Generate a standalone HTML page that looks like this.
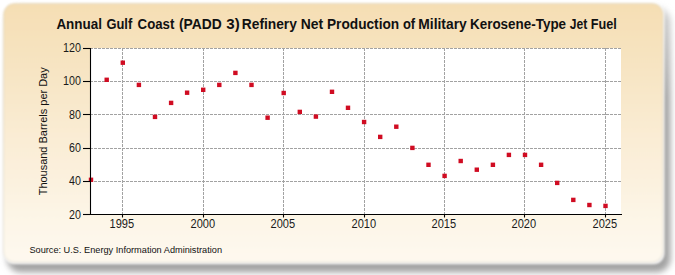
<!DOCTYPE html>
<html><head><meta charset="utf-8"><style>
html,body{margin:0;padding:0;width:675px;height:275px;overflow:hidden;background:#fff}
svg{display:block}
text{font-family:"Liberation Sans",sans-serif}
</style></head><body>
<svg width="675" height="275" viewBox="0 0 675 275">
<defs>
<linearGradient id="bg" gradientUnits="userSpaceOnUse" x1="0" y1="0" x2="0" y2="263">
<stop offset="0" stop-color="#F5DEB3"/>
<stop offset="0.25" stop-color="#F7E4C2"/>
<stop offset="0.55" stop-color="#FAEDD6"/>
<stop offset="0.85" stop-color="#FDF6E8"/>
<stop offset="1" stop-color="#FEF9EF"/>
</linearGradient>
<linearGradient id="shg" x1="0" y1="0" x2="0" y2="1"><stop offset="0" stop-color="#d0d0d0"/><stop offset="0.35" stop-color="#a4a4a4"/><stop offset="1" stop-color="#a2a2a2"/></linearGradient>
<filter id="sh" x="-5%" y="-5%" width="115%" height="120%"><feGaussianBlur stdDeviation="3"/></filter>
<filter id="soft" x="-2%" y="-2%" width="104%" height="104%"><feGaussianBlur stdDeviation="0.8"/></filter>
</defs>
<rect x="7" y="8" width="663.5" height="264.3" rx="14" fill="url(#shg)" filter="url(#sh)"/>
<rect x="3.6" y="3.6" width="661" height="260.6" rx="11" fill="#fff" fill-opacity="0.85" filter="url(#soft)"/>
<rect x="3.6" y="3.6" width="659.4" height="258.6" rx="11" fill="url(#bg)" stroke="#a09070" stroke-opacity="0.22" stroke-width="1" filter="url(#soft)"/>
<rect x="90" y="48" width="531" height="166" fill="#fff"/>

<g stroke="#a2a2a2" stroke-width="1" stroke-dasharray="3 1"><line x1="90" y1="48.5" x2="621" y2="48.5"/><line x1="90" y1="81.5" x2="621" y2="81.5"/><line x1="90" y1="114.5" x2="621" y2="114.5"/><line x1="90" y1="148.5" x2="621" y2="148.5"/><line x1="90" y1="181.5" x2="621" y2="181.5"/><line x1="122.5" y1="48" x2="122.5" y2="214"/><line x1="203.5" y1="48" x2="203.5" y2="214"/><line x1="283.5" y1="48" x2="283.5" y2="214"/><line x1="364.5" y1="48" x2="364.5" y2="214"/><line x1="444.5" y1="48" x2="444.5" y2="214"/><line x1="524.5" y1="48" x2="524.5" y2="214"/><line x1="605.5" y1="48" x2="605.5" y2="214"/></g>
<g fill="#D00C22"><rect x="88.8" y="177.6" width="4.4" height="4.4"/><rect x="104.5" y="77.6" width="4.4" height="4.4"/><rect x="120.6" y="60.5" width="4.4" height="4.4"/><rect x="136.7" y="82.7" width="4.4" height="4.4"/><rect x="152.8" y="114.7" width="4.4" height="4.4"/><rect x="168.9" y="100.7" width="4.4" height="4.4"/><rect x="184.9" y="90.5" width="4.4" height="4.4"/><rect x="201.0" y="87.6" width="4.4" height="4.4"/><rect x="217.1" y="82.7" width="4.4" height="4.4"/><rect x="233.2" y="70.7" width="4.4" height="4.4"/><rect x="249.3" y="82.7" width="4.4" height="4.4"/><rect x="265.4" y="115.5" width="4.4" height="4.4"/><rect x="281.5" y="90.8" width="4.4" height="4.4"/><rect x="297.6" y="109.7" width="4.4" height="4.4"/><rect x="313.7" y="114.4" width="4.4" height="4.4"/><rect x="329.8" y="89.6" width="4.4" height="4.4"/><rect x="345.8" y="105.6" width="4.4" height="4.4"/><rect x="361.9" y="119.8" width="4.4" height="4.4"/><rect x="378.0" y="134.7" width="4.4" height="4.4"/><rect x="394.1" y="124.5" width="4.4" height="4.4"/><rect x="410.2" y="145.7" width="4.4" height="4.4"/><rect x="426.3" y="162.6" width="4.4" height="4.4"/><rect x="442.4" y="173.7" width="4.4" height="4.4"/><rect x="458.5" y="158.8" width="4.4" height="4.4"/><rect x="474.6" y="167.5" width="4.4" height="4.4"/><rect x="490.7" y="162.6" width="4.4" height="4.4"/><rect x="506.7" y="152.7" width="4.4" height="4.4"/><rect x="522.8" y="152.7" width="4.4" height="4.4"/><rect x="538.9" y="162.6" width="4.4" height="4.4"/><rect x="555.0" y="180.7" width="4.4" height="4.4"/><rect x="571.1" y="197.7" width="4.4" height="4.4"/><rect x="587.2" y="202.8" width="4.4" height="4.4"/><rect x="603.3" y="203.7" width="4.4" height="4.4"/></g>
<g stroke="#000" stroke-width="1.1" fill="none">
<line x1="90.5" y1="48" x2="90.5" y2="214.5"/><line x1="90" y1="214.5" x2="622" y2="214.5"/>
<line x1="83" y1="48.5" x2="90" y2="48.5"/>
<line x1="83" y1="81.5" x2="90" y2="81.5"/>
<line x1="83" y1="114.5" x2="90" y2="114.5"/>
<line x1="83" y1="148.5" x2="90" y2="148.5"/>
<line x1="83" y1="181.5" x2="90" y2="181.5"/>
<line x1="83" y1="214.5" x2="90" y2="214.5"/>
<line x1="122.5" y1="214" x2="122.5" y2="217.5"/>
<line x1="203.5" y1="214" x2="203.5" y2="217.5"/>
<line x1="283.5" y1="214" x2="283.5" y2="217.5"/>
<line x1="364.5" y1="214" x2="364.5" y2="217.5"/>
<line x1="444.5" y1="214" x2="444.5" y2="217.5"/>
<line x1="524.5" y1="214" x2="524.5" y2="217.5"/>
<line x1="605.5" y1="214" x2="605.5" y2="217.5"/>
</g>
<g font-size="12" fill="#1a1a1a" text-anchor="end">
<text x="81" y="52.1" textLength="17.9" lengthAdjust="spacingAndGlyphs">120</text>
<text x="81" y="85.1" textLength="17.9" lengthAdjust="spacingAndGlyphs">100</text>
<text x="81" y="119.1" textLength="11.9" lengthAdjust="spacingAndGlyphs">80</text>
<text x="81" y="152.1" textLength="11.9" lengthAdjust="spacingAndGlyphs">60</text>
<text x="81" y="185.1" textLength="11.9" lengthAdjust="spacingAndGlyphs">40</text>
<text x="81" y="219.1" textLength="11.9" lengthAdjust="spacingAndGlyphs">20</text>
</g>
<g font-size="12" fill="#1a1a1a" text-anchor="middle">
<text x="121.8" y="227.7" textLength="24.6" lengthAdjust="spacingAndGlyphs">1995</text>
<text x="202.8" y="227.7" textLength="24.6" lengthAdjust="spacingAndGlyphs">2000</text>
<text x="282.8" y="227.7" textLength="24.6" lengthAdjust="spacingAndGlyphs">2005</text>
<text x="363.8" y="227.7" textLength="24.6" lengthAdjust="spacingAndGlyphs">2010</text>
<text x="443.8" y="227.7" textLength="24.6" lengthAdjust="spacingAndGlyphs">2015</text>
<text x="523.8" y="227.7" textLength="24.6" lengthAdjust="spacingAndGlyphs">2020</text>
<text x="604.8" y="227.7" textLength="24.6" lengthAdjust="spacingAndGlyphs">2025</text>
</g>
<g font-size="14" font-weight="bold" fill="#111"><text x="56.4" y="29" textLength="45.6" lengthAdjust="spacingAndGlyphs">Annual</text><text x="106.4" y="29" textLength="25.8" lengthAdjust="spacingAndGlyphs">Gulf</text><text x="137.6" y="29" textLength="36.7" lengthAdjust="spacingAndGlyphs">Coast</text><text x="178.9" y="29" textLength="42.8" lengthAdjust="spacingAndGlyphs">(PADD</text><text x="226.3" y="29" textLength="13.4" lengthAdjust="spacingAndGlyphs">3)</text><text x="241.8" y="29" textLength="55.1" lengthAdjust="spacingAndGlyphs">Refinery</text><text x="300.8" y="29" textLength="22.4" lengthAdjust="spacingAndGlyphs">Net</text><text x="327.0" y="29" textLength="72.2" lengthAdjust="spacingAndGlyphs">Production</text><text x="402.9" y="29" textLength="12.2" lengthAdjust="spacingAndGlyphs">of</text><text x="418.3" y="29" textLength="48.4" lengthAdjust="spacingAndGlyphs">Military</text><text x="470.0" y="29" textLength="96.1" lengthAdjust="spacingAndGlyphs">Kerosene-Type</text><text x="569.8" y="29" textLength="17.5" lengthAdjust="spacingAndGlyphs">Jet</text><text x="590.7" y="29" textLength="26.0" lengthAdjust="spacingAndGlyphs">Fuel</text></g>
<text transform="translate(46.6,131.3) rotate(-90)" text-anchor="middle" font-size="11" fill="#111" textLength="128" lengthAdjust="spacingAndGlyphs">Thousand Barrels per Day</text>
<text x="29.4" y="252.8" font-size="9.6" fill="#111" textLength="192.6" lengthAdjust="spacingAndGlyphs">Source: U.S. Energy Information Administration</text>
</svg></body></html>
